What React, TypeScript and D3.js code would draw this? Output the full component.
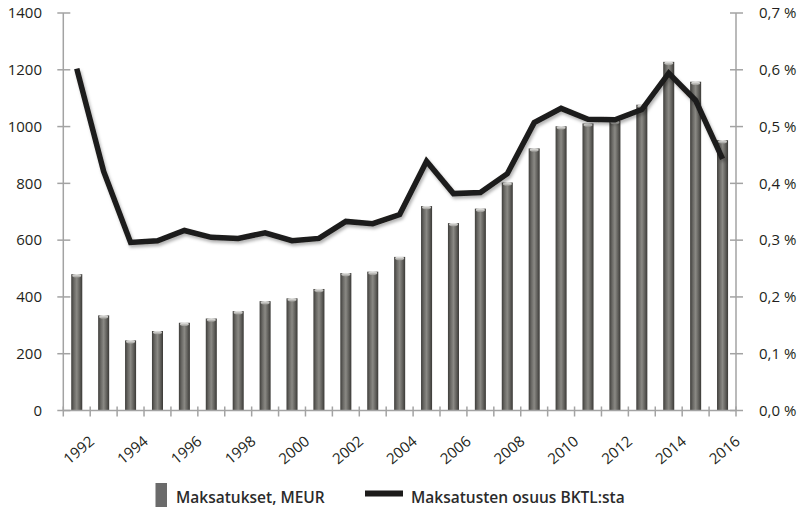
import React from "react";
import * as d3 from "d3";

const years: string[] = d3.range(1992, 2017).map(String);
const payments: number[] = [480, 335, 247, 280, 309, 324, 350, 385, 395, 428, 484, 489, 541, 720, 660, 711, 803, 923, 1001, 1011, 1020, 1077, 1228, 1158, 952];
const shareGni: number[] = [0.602, 0.421, 0.296, 0.299, 0.317, 0.305, 0.303, 0.313, 0.299, 0.303, 0.333, 0.329, 0.345, 0.439, 0.382, 0.384, 0.417, 0.507, 0.532, 0.513, 0.512, 0.53, 0.594, 0.546, 0.443];
const leftTicks: number[] = [0, 200, 400, 600, 800, 1000, 1200, 1400];
const rightTicks: number[] = [0, 0.1, 0.2, 0.3, 0.4, 0.5, 0.6, 0.7];
const legendLabels: string[] = ["Maksatukset, MEUR", "Maksatusten osuus BKTL:sta"];

const W = 805;
const H = 507;
const left = 63.3;
const right = 736;
const top = 13;
const bottom = 410.5;
const font = "'Open Sans', 'Noto Sans', sans-serif";
const axisColor = "#a3a3a3";
const textColor = "#231f20";

export default function App() {
  const x = d3.scaleBand<string>().domain(years).range([left, right]).paddingInner(0.59).paddingOuter(0.295);
  const xb = d3.scaleBand<string>().domain(years).range([left, right]);
  const yL = d3.scaleLinear().domain([0, 1400]).range([bottom, top]);
  const yR = d3.scaleLinear().domain([0, 0.7]).range([bottom, top]);
  const line = d3
    .line<number>()
    .x((_, i) => (xb(years[i]) as number) + xb.bandwidth() / 2)
    .y((d) => yR(d));
  const bw = x.bandwidth();
  const fmtR = (v: number) => v.toFixed(1).replace(".", ",") + " %";

  return (
    <svg width={W} height={H} style={{ position: "absolute", left: 0, top: 0, display: "block", background: "#fff" }}>
      <defs>
        <linearGradient id="barGrad" x1="0" x2="1" y1="0" y2="0">
          <stop offset="0%" stopColor="#3e3d3a" />
          <stop offset="25%" stopColor="#6a6965" />
          <stop offset="50%" stopColor="#8a8984" />
          <stop offset="75%" stopColor="#64635f" />
          <stop offset="100%" stopColor="#3a3936" />
        </linearGradient>
        <linearGradient id="capGrad" x1="0" x2="0" y1="0" y2="1">
          <stop offset="0%" stopColor="#f0f0ee" />
          <stop offset="100%" stopColor="#9a9995" />
        </linearGradient>
        <filter id="shadow" x="-10%" y="-10%" width="120%" height="130%">
          <feDropShadow dx="1.5" dy="2.5" stdDeviation="1.6" floodColor="#000" floodOpacity="0.3" />
        </filter>
      </defs>

      {/* bars */}
      {payments.map((v, i) => {
        const bx = x(years[i]) as number;
        const by = yL(v);
        return (
          <g key={years[i]}>
            <rect x={bx} y={by} width={bw} height={bottom - by} fill="url(#barGrad)" />
            <ellipse cx={bx + bw / 2} cy={by + 1.5} rx={bw / 2 - 1} ry={1.8} fill="url(#capGrad)" />
          </g>
        );
      })}

      {/* axes */}
      <line x1={left} x2={left} y1={top} y2={bottom} stroke={axisColor} strokeWidth={1.5} />
      <line x1={right} x2={right} y1={top} y2={bottom} stroke={axisColor} strokeWidth={1.5} />
      <line x1={left} x2={right} y1={bottom} y2={bottom} stroke={axisColor} strokeWidth={1.5} />
      {leftTicks.map((t) => (
        <g key={"l" + t}>
          <line x1={left - 6} x2={left + 7} y1={yL(t)} y2={yL(t)} stroke={axisColor} strokeWidth={1.5} />
          <text x={42} y={yL(t)} dy="0.35em" textAnchor="end" fontFamily={font} fontSize={15} fill={textColor}>
            {t}
          </text>
        </g>
      ))}
      {rightTicks.map((t) => (
        <g key={"r" + t}>
          <line x1={right - 6} x2={right + 7} y1={yR(t)} y2={yR(t)} stroke={axisColor} strokeWidth={1.5} />
          <text x={759} y={yR(t)} dy="0.35em" textAnchor="start" fontFamily={font} fontSize={15} fill={textColor}>
            {fmtR(t)}
          </text>
        </g>
      ))}
      {years.map((yr) => (
        <line key={"xt" + yr} x1={xb(yr) as number} x2={xb(yr) as number} y1={bottom - 4} y2={bottom + 6} stroke={axisColor} strokeWidth={1.5} />
      ))}
      <line x1={right} x2={right} y1={bottom - 4} y2={bottom + 6} stroke={axisColor} strokeWidth={1.5} />
      {years.map((yr, i) =>
        i % 2 === 0 ? (
          <text
            key={"xl" + yr}
            transform={`translate(${(xb(yr) as number) + xb.bandwidth() / 2 + 2},${450}) rotate(-40)`}
            textAnchor="middle"
            dy="0.35em"
            fontFamily={font}
            fontSize={15}
            fill={textColor}
          >
            {yr}
          </text>
        ) : null
      )}

      {/* line */}
      <path d={line(shareGni) as string} fill="none" stroke="#1c1b1a" strokeWidth={5.5} strokeLinejoin="miter" filter="url(#shadow)" />

      {/* legend */}
      <rect x={155.5} y={483} width={11.5} height={24} fill="#6b6b6b" />
      <text x={176} y={502.5} fontFamily={font} fontSize={15.5} fontWeight={600} fill="#2b2b2b">
        {legendLabels[0]}
      </text>
      <rect x={365} y={490.5} width={38} height={6} fill="#1c1b1a" />
      <text x={411} y={502.5} fontFamily={font} fontSize={15.5} fontWeight={600} fill="#2b2b2b">
        {legendLabels[1]}
      </text>
    </svg>
  );
}
